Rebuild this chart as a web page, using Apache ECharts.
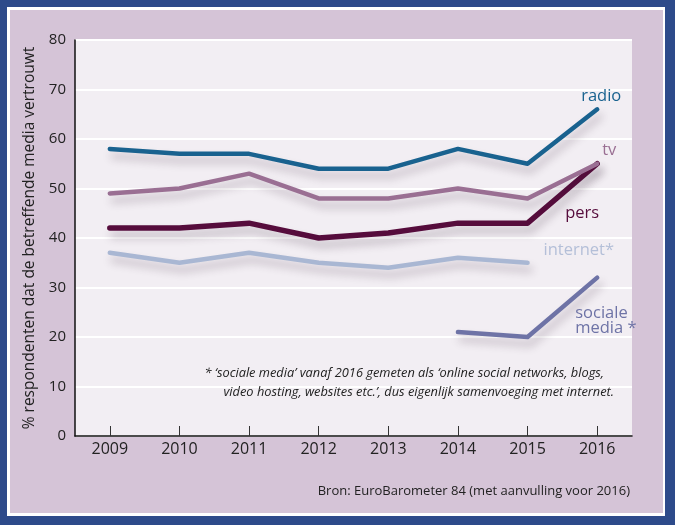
<!DOCTYPE html>
<html><head><meta charset="utf-8">
<script src="https://cdn.jsdelivr.net/npm/echarts@6/dist/echarts.min.js"></script>
<style>html,body{margin:0;padding:0;background:#2d4a8a}#c{width:675px;height:525px}</style>
</head><body><div id="c"></div>
<script>
const years = ['2009','2010','2011','2012','2013','2014','2015','2016'];
const radio = [58, 57, 57, 54, 54, 58, 55, 66];
const tv = [49, 50, 53, 48, 48, 50, 48, 55];
const pers = [42, 42, 43, 40, 41, 43, 43, 55];
const internet = [37, 35, 37, 35, 34, 36, 35];
const sociale = [null, null, null, null, null, 21, 20, 32];
const yTicks = {min: 0, max: 80, interval: 10};
const yTitle = '% respondenten dat de betreffende media vertrouwt';
const note1 = '* \u2018sociale media\u2019 vanaf 2016 gemeten als \u2018online social networks, blogs,';
const note2 = 'video hosting, websites etc.\u2019, dus eigenlijk samenvoeging met internet.';
const source = 'Bron: EuroBarometer 84 (met aanvulling voor 2016)';

const FONT = '"Open Sans"';
const shadow = {shadowColor: 'rgba(60,40,60,0.28)', shadowBlur: 8, shadowOffsetX: 3, shadowOffsetY: 7};
function mk(name, data, color, width, label, labelColor) {
  return {
    name, type: 'line', data, symbol: 'none', connectNulls: false,
    lineStyle: Object.assign({color, width, cap: 'round', join: 'round'}, shadow),
    itemStyle: {color},
    endLabel: Object.assign({show: true, formatter: label.text, color: labelColor || color,
      fontFamily: FONT, fontSize: 16.5, lineHeight: 15}, label.opts),
    z: 3
  };
}
const chart = echarts.init(document.getElementById('c'));
chart.setOption({
  animation: false,
  backgroundColor: '#2d4a8a',
  graphic: [
    {type: 'rect', shape: {x: 7, y: 7, width: 658, height: 509}, style: {fill: '#ffffff'}, z: -10, silent: true},
    {type: 'rect', shape: {x: 10, y: 10, width: 653, height: 503}, style: {fill: '#d5c4d7'}, z: -9, silent: true},
    {type: 'text', right: 71, top: 367, z: 10, style: {text: note1, fill: '#222', font: 'italic 12.8px ' + FONT, textAlign: 'right'}},
    {type: 'text', right: 61, top: 386, z: 10, style: {text: note2, fill: '#222', font: 'italic 12.8px ' + FONT, textAlign: 'right'}},
    {type: 'text', right: 45, top: 485, z: 10, style: {text: source, fill: '#222', font: '13px ' + FONT, textAlign: 'right'}}
  ],
  grid: {left: 75, right: 43, top: 40, bottom: 89, show: true, backgroundColor: '#f2eef3', borderWidth: 0},
  xAxis: {
    type: 'category', data: years, boundaryGap: true,
    axisLine: {lineStyle: {color: '#111', width: 1.5}},
    axisTick: {show: true, inside: true, length: 10, alignWithLabel: true, lineStyle: {color: '#333', width: 1}},
    axisLabel: {color: '#222', fontSize: 16, fontFamily: FONT, margin: 5},
    splitLine: {show: false}
  },
  yAxis: {
    type: 'value', min: yTicks.min, max: yTicks.max, interval: yTicks.interval,
    name: yTitle, nameLocation: 'middle', nameRotate: 90, nameGap: 36,
    nameTextStyle: {color: '#222', fontSize: 15.5, fontFamily: FONT},
    axisLine: {show: true, lineStyle: {color: '#111', width: 1.5}},
    axisTick: {show: false},
    axisLabel: {color: '#222', fontSize: 15, fontFamily: FONT, margin: 9},
    splitLine: {show: true, lineStyle: {color: '#ffffff', width: 2}}
  },
  series: [
    mk('internet', internet, '#a9b7d3', 4.5, {text: 'internet*', opts: {align: 'left', verticalAlign: 'middle', offset: [8, -12]}}, '#b4bfd8'),
    mk('sociale media', sociale, '#6e73a6', 4.5, {text: 'sociale\nmedia *', opts: {align: 'left', verticalAlign: 'middle', offset: [-30, 43]}}, '#6e73a6'),
    mk('pers', pers, '#560c3c', 5.5, {text: 'pers', opts: {align: 'center', verticalAlign: 'middle', offset: [-23, 50]}}),
    mk('tv', tv, '#9a6f93', 4.5, {text: 'tv', opts: {align: 'center', verticalAlign: 'middle', offset: [4, -13]}}),
    mk('radio', radio, '#19628f', 4.5, {text: 'radio', opts: {align: 'center', verticalAlign: 'middle', offset: [-4, -13]}})
  ]
});
</script></body></html>
